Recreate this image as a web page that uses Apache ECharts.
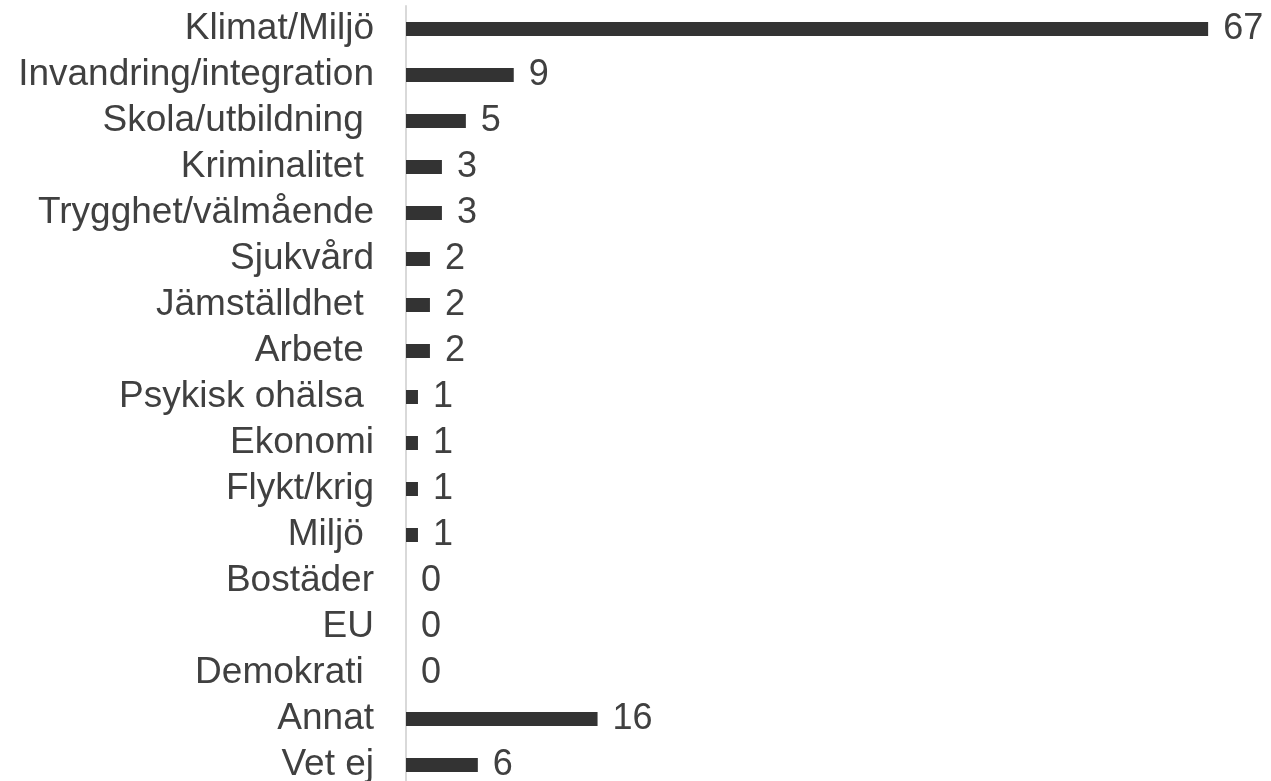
<!DOCTYPE html>
<html>
<head>
<meta charset="utf-8">
<script src="https://cdn.jsdelivr.net/npm/echarts@6/dist/echarts.min.js"></script>
<style>
  html, body { margin: 0; padding: 0; background: #fff; }
  #chart { width: 1271px; height: 781px; }
</style>
</head>
<body>
<div id="chart"></div>
<script>
// kategorier, uppifrån och ner
const categories = [
  'Klimat/Miljö', 'Invandring/integration', 'Skola/utbildning ', 'Kriminalitet ',
  'Trygghet/välmående', 'Sjukvård', 'Jämställdhet ', 'Arbete ', 'Psykisk ohälsa ',
  'Ekonomi', 'Flykt/krig', 'Miljö ', 'Bostäder', 'EU', 'Demokrati ', 'Annat', 'Vet ej'
]
const values = [67, 9, 5, 3, 3, 2, 2, 2, 1, 1, 1, 1, 0, 0, 0, 16, 6]

const myChart = echarts.init(document.getElementById('chart'))
myChart.setOption({
  animation: false,
  grid: {
    left: 406,
    right: 3,
    top: 6,
    height: 782,
    outerBoundsMode: 'none',
  },
  xAxis: {
    type: 'value',
    min: 0,
    max: 72,
    show: false,
  },
  yAxis: {
    type: 'category',
    inverse: true,
    data: categories,
    axisLine: { show: true, lineStyle: { color: '#d9d9d9', width: 2 } },
    axisTick: { show: false },
    axisLabel: {
      interval: 0,
      margin: 32,
      fontFamily: 'Liberation Sans, Arial, sans-serif',
      fontSize: 37,
      color: '#404040',
    },
  },
  series: [
    {
      type: 'bar',
      data: values,
      barWidth: 14,
      itemStyle: { color: '#333333' },
      label: {
        show: true,
        position: 'right',
        distance: 15,
        fontFamily: 'Liberation Sans, Arial, sans-serif',
        fontSize: 36,
        color: '#404040',
      },
    },
  ],
})
</script>
</body>
</html>
